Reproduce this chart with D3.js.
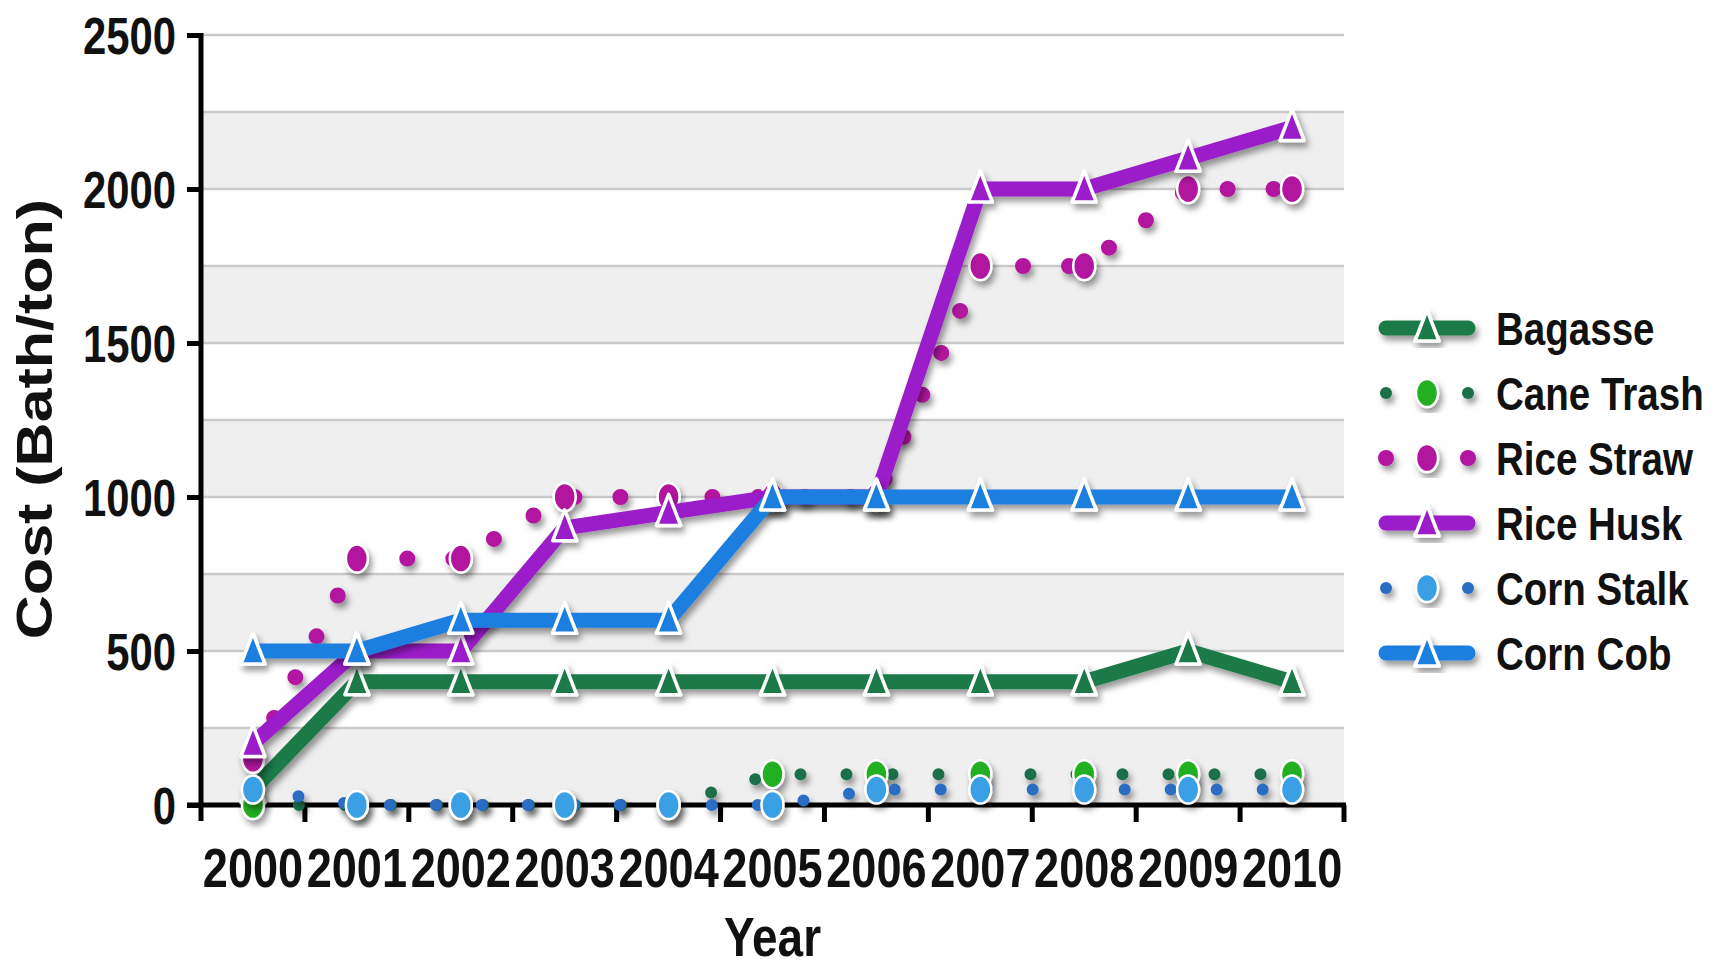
<!DOCTYPE html>
<html>
<head>
<meta charset="utf-8">
<script src="https://cdn.jsdelivr.net/npm/d3@7"></script>
<style>
  html, body { margin: 0; padding: 0; background: #ffffff; }
  svg { display: block; }
  text { font-family: "Liberation Sans", Arial, Helvetica, sans-serif; font-weight: bold; fill: #111; }
</style>
</head>
<body>
<svg id="chart" width="1725" height="969"></svg>
<script>
// ---------- data ----------
const years = ["2000","2001","2002","2003","2004","2005","2006","2007","2008","2009","2010"];
const bagasse   = [50, 400, 400, 400, 400, 400, 400, 400, 400, 500, 400];
const caneTrash = [0, 0, 0, 0, 0, 100, 100, 100, 100, 100, 100];
const riceStraw = [150, 800, 800, 1000, 1000, 1000, 1000, 1750, 1750, 2000, 2000];
const riceHusk  = [200, 500, 500, 900, 950, 1000, 1000, 2000, 2000, 2100, 2200];
const cornStalk = [50, 0, 0, 0, 0, 0, 50, 50, 50, 50, 50];
const cornCob   = [500, 500, 600, 600, 600, 1000, 1000, 1000, 1000, 1000, 1000];
const seriesNames = ["Bagasse", "Cane Trash", "Rice Straw", "Rice Husk", "Corn Stalk", "Corn Cob"];
const yTickValues = [0, 500, 1000, 1500, 2000, 2500];
const gridValues  = [0, 250, 500, 750, 1000, 1250, 1500, 1750, 2000, 2250, 2500];
const yTitle = "Cost (Bath/ton)";
const xTitle = "Year";

(function () {
// ---------- styles ----------
const SX = 0.82; // horizontal squeeze of the original picture
const styles = [
  {values: bagasse,   line: "#1f7a48", marker: "#1f7a48", kind: "solid",  shape: "tri"},
  {values: caneTrash, line: "#1d6f4a", marker: "#22b022", kind: "dotted", shape: "circ", dotW: 12},
  {values: riceStraw, line: "#b2149f", marker: "#b2149f", kind: "dotted", shape: "circ", dotW: 16},
  {values: riceHusk,  line: "#9b1bc9", marker: "#9b1bc9", kind: "solid",  shape: "tri"},
  {values: cornStalk, line: "#2a6dc3", marker: "#3a9fe6", kind: "dotted", shape: "circ", dotW: 12},
  {values: cornCob,   line: "#1f7fe0", marker: "#1f7fe0", kind: "solid",  shape: "tri"}
];

const svg = d3.select("#chart");
const pLeft = 201, pRight = 1344, pTop = 35, pBottom = 805;

const x = d3.scaleBand().domain(years).range([pLeft, pRight]).paddingInner(0).paddingOuter(0);
const y = d3.scaleLinear().domain([0, 2500]).range([pBottom, pTop]);
const cx = d => x(d) + x.bandwidth() / 2;

// filter
const defs = svg.append("defs");
const f = defs.append("filter").attr("id", "shadow").attr("x", "-10%").attr("y", "-10%").attr("width", "130%").attr("height", "130%");
f.append("feDropShadow").attr("dx", 3).attr("dy", 5).attr("stdDeviation", 3)
  .attr("flood-color", "#000").attr("flood-opacity", 0.4);

// background bands
const bandG = svg.append("g");
for (let i = 0; i < gridValues.length - 1; i++) {
  if (i % 2 === 0) {
    bandG.append("rect")
      .attr("x", pLeft).attr("width", pRight - pLeft)
      .attr("y", y(gridValues[i + 1])).attr("height", y(gridValues[i]) - y(gridValues[i + 1]))
      .attr("fill", "#efefef");
  }
}
// grid lines
svg.append("g").selectAll("line").data(gridValues.filter(v => v > 0)).join("line")
  .attr("x1", pLeft).attr("x2", pRight)
  .attr("y1", d => y(d)).attr("y2", d => y(d))
  .attr("stroke", "#c9c9c9").attr("stroke-width", 2.5);

// axes
const yAxis = svg.append("g").attr("transform", `translate(${pLeft},0)`)
  .call(d3.axisLeft(y).tickValues(yTickValues).tickFormat(d3.format("d")).tickSize(14).tickSizeOuter(0));
yAxis.select(".domain").attr("stroke", "#000").attr("stroke-width", 5)
  .attr("d", `M0,${pTop - 2}V${pBottom + 16}`);
yAxis.selectAll(".tick line").attr("stroke", "#000").attr("stroke-width", 5);
yAxis.selectAll(".tick text")
  .attr("x", -25 / SX).attr("dy", "0.36em")
  .attr("transform", `scale(${SX},1)`)
  .style("font-size", "51px").style("font-family", "'Liberation Sans', Arial, sans-serif").style("font-weight", "bold").attr("fill", "#111");

const xAxis = svg.append("g").attr("transform", `translate(0,${pBottom})`)
  .call(d3.axisBottom(x).tickSize(0).tickSizeOuter(0));
xAxis.select(".domain").attr("stroke", "#000").attr("stroke-width", 5)
  .attr("d", `M${pLeft - 14},0H${pRight + 2}`);
xAxis.selectAll(".tick text")
  .attr("y", 0).attr("dy", 0)
  .attr("transform", `translate(0,82) scale(${SX},1)`)
  .style("font-size", "55px").style("font-family", "'Liberation Sans', Arial, sans-serif").style("font-weight", "bold").attr("fill", "#111");
// boundary ticks
const edges = years.map(d => x(d)).concat([pRight]);
svg.append("g").selectAll("line").data(edges.slice(1)).join("line")
  .attr("x1", d => d).attr("x2", d => d)
  .attr("y1", pBottom).attr("y2", pBottom + 17)
  .attr("stroke", "#000").attr("stroke-width", 5);

// titles
svg.append("text")
  .attr("transform", `translate(52,419) scale(${SX},1) rotate(-90)`)
  .attr("text-anchor", "middle")
  .style("font-size", "61px")
  .text(yTitle);
svg.append("text")
  .attr("transform", `translate(${(pLeft + pRight) / 2},956) scale(${SX},1)`)
  .attr("text-anchor", "middle")
  .style("font-size", "56px")
  .text(xTitle);

// marker helpers
function triPath() { return "M0,-18L12,13L-12,13Z"; }
function drawMarker(g, px, py, s) {
  if (s.shape === "tri") {
    g.append("path").attr("d", triPath())
      .attr("transform", `translate(${px},${py})`)
      .attr("fill", s.marker).attr("stroke", "#fff").attr("stroke-width", 3.5).attr("stroke-linejoin", "round");
  } else {
    g.append("ellipse").attr("cx", px).attr("cy", py).attr("rx", 11).attr("ry", 14)
      .attr("fill", s.marker).attr("stroke", "#fff").attr("stroke-width", 2.5);
  }
}

// series
const lineGen = d3.line().x((d, i) => cx(years[i])).y(d => y(d));
const plotG = svg.append("g");
styles.forEach((s, si) => {
  const g = plotG.append("g").attr("filter", "url(#shadow)");
  const p = g.append("path").attr("d", lineGen(s.values)).attr("fill", "none")
    .attr("stroke", s.line).attr("stroke-linecap", "round").attr("stroke-linejoin", "round");
  if (s.kind === "solid") {
    p.attr("stroke-width", 15);
  } else {
    p.attr("stroke-width", s.dotW).attr("stroke-dasharray", "0 46");
  }
  s.values.forEach((v, i) => drawMarker(g, cx(years[i]), y(v), s));
});

// legend
const legRows = [328, 393, 458, 523, 588, 653];
const legG = svg.append("g");
styles.forEach((s, si) => {
  const g = legG.append("g").attr("filter", "url(#shadow)");
  const ly = legRows[si];
  if (s.kind === "solid") {
    g.append("line").attr("x1", 1386).attr("x2", 1468).attr("y1", ly).attr("y2", ly)
      .attr("stroke", s.line).attr("stroke-width", 15).attr("stroke-linecap", "round");
  } else {
    [1386, 1468].forEach(lx => g.append("line").attr("x1", lx).attr("x2", lx).attr("y1", ly).attr("y2", ly)
      .attr("stroke", s.line).attr("stroke-width", s.dotW).attr("stroke-linecap", "round"));
  }
  drawMarker(g, 1427, ly, s);
  legG.append("text")
    .attr("transform", `translate(1496,${ly}) scale(${SX},1)`)
    .attr("dy", "0.36em")
    .style("font-size", "47px")
    .text(seriesNames[si]);
});
})();
</script>
</body>
</html>
